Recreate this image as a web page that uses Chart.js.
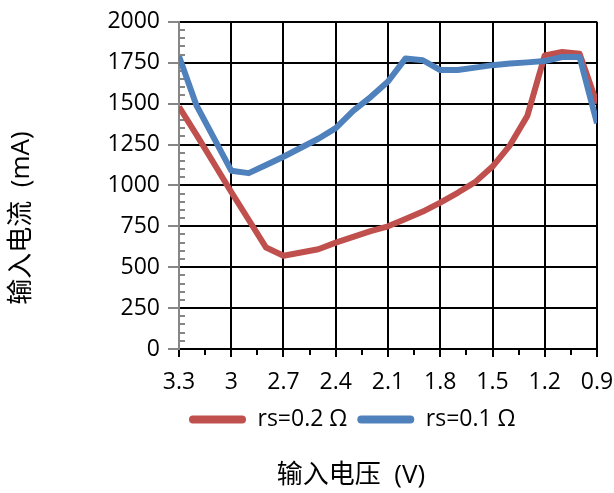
<!DOCTYPE html>
<html>
<head>
<meta charset="utf-8">
<script src="https://cdn.jsdelivr.net/npm/chart.js@4.4.1/dist/chart.umd.min.js"></script>
<style>
    body { margin: 0; background: #fff; }
    #wrap { width: 614px; height: 493px; }
</style>
</head>
<body>
<div id="wrap"><canvas id="ivChart" width="614" height="493"></canvas></div>
<script>
// Input voltage (V), read every 0.1 V from the picture
const voltage = [3.3, 3.2, 3.1, 3.0, 2.9, 2.8, 2.7, 2.6, 2.5, 2.4, 2.3, 2.2, 2.1,
                 2.0, 1.9, 1.8, 1.7, 1.6, 1.5, 1.4, 1.3, 1.2, 1.1, 1.0, 0.9];

// Input current (mA)
const currentRs02 = [1480, 1310, 1135, 960, 790, 620, 570, 590, 610, 650, 685, 720, 750,
                     795, 840, 895, 955, 1020, 1115, 1245, 1425, 1795, 1815, 1805, 1500];
const currentRs01 = [1790, 1490, 1290, 1090, 1075, 1125, 1175, 1230, 1285, 1350, 1455, 1540, 1635,
                     1775, 1765, 1705, 1705, 1720, 1735, 1745, 1752, 1760, 1785, 1785, 1380];

const seriesNames = ['rs=0.2 Ω', 'rs=0.1 Ω'];

// Axis ticks
const xTickValues = [3.3, 3.0, 2.7, 2.4, 2.1, 1.8, 1.5, 1.2, 0.9];
const xTickLabels = ['3.3', '3', '2.7', '2.4', '2.1', '1.8', '1.5', '1.2', '0.9'];
const yTickStep = 250;
const yMinorStep = 50;

const xTitle = '输入电压  (V)';
const yTitle = '输入电流  (mA)';

const RED = '#C0504D';
const BLUE = '#4F81BD';
const AXIS_GRAY = '#868686';
const FONT = "'Open Sans', 'Noto Sans CJK SC', sans-serif";

function toPoints(ys) {
    return voltage.map((v, i) => ({ x: v, y: ys[i] }));
}

// minor tick marks (y inside, x below the axis)
const minorTicks = {
    id: 'minorTicks',
    beforeDatasetsDraw(chart) {
        const { ctx, chartArea, scales } = chart;
        const x = scales.x, y = scales.y;
        ctx.save();
        ctx.lineWidth = 2;

        ctx.strokeStyle = AXIS_GRAY;
        ctx.beginPath();
        for (let v = yMinorStep; v < y.max; v += yMinorStep) {
            if (v % yTickStep === 0) continue;
            const py = Math.round(y.getPixelForValue(v));
            ctx.moveTo(chartArea.left, py);
            ctx.lineTo(chartArea.left + 6, py);
        }
        ctx.stroke();

        ctx.strokeStyle = '#000';
        ctx.beginPath();
        for (let i = 0; i < xTickValues.length - 1; i++) {
            const mid = (xTickValues[i] + xTickValues[i + 1]) / 2;
            const px = Math.round(x.getPixelForValue(mid));
            ctx.moveTo(px, chartArea.bottom);
            ctx.lineTo(px, chartArea.bottom + 6);
        }
        ctx.stroke();
        ctx.restore();
    }
};

// axis titles, placed like the original sheet
const axisTitles = {
    id: 'axisTitles',
    afterDraw(chart) {
        const { ctx } = chart;
        ctx.save();
        ctx.fillStyle = '#000';
        ctx.font = '26px ' + FONT;
        ctx.textAlign = 'center';
        ctx.textBaseline = 'middle';
        ctx.fillText(xTitle, 351, 476);

        ctx.translate(22, 218);
        ctx.rotate(-Math.PI / 2);
        ctx.fillText(yTitle, 0, 0);
        ctx.restore();
    }
};

const ctx = document.getElementById('ivChart').getContext('2d');
const ivChart = new Chart(ctx, {
    type: 'line',
    data: {
        datasets: [
            {
                label: seriesNames[0],
                data: toPoints(currentRs02),
                borderColor: RED,
                backgroundColor: RED,
                borderWidth: 6,
                borderJoinStyle: 'round',
                pointRadius: 0,
                tension: 0,
                order: 1
            },
            {
                label: seriesNames[1],
                data: toPoints(currentRs01),
                borderColor: BLUE,
                backgroundColor: BLUE,
                borderWidth: 6,
                borderJoinStyle: 'round',
                pointRadius: 0,
                tension: 0,
                order: 0
            }
        ]
    },
    options: {
        responsive: false,
        animation: false,
        events: [],
        layout: {
            padding: { left: 0, right: 17, top: 20, bottom: 52 }
        },
        plugins: {
            tooltip: { enabled: false },
            legend: {
                position: 'bottom',
                fullSize: false,
                align: 'start',
                labels: {
                    boxWidth: 57,
                    boxHeight: 8,
                    useBorderRadius: true,
                    borderRadius: 4,
                    padding: 10,
                    color: '#000',
                    font: { size: 23, family: FONT },
                    sort: (a, b) => a.datasetIndex - b.datasetIndex,
                    generateLabels: (chart) =>
                        Chart.defaults.plugins.legend.labels.generateLabels(chart)
                            .map(item => Object.assign(item, { lineWidth: 0 }))
                }
            }
        },
        scales: {
            x: {
                type: 'linear',
                reverse: true,
                min: 0.9,
                max: 3.3,
                afterBuildTicks: (scale) => {
                    scale.ticks = xTickValues.map(v => ({ value: v }));
                },
                afterFit: (scale) => {
                    scale.height = 49;
                    scale.paddingLeft = 0;
                    scale.paddingRight = 0;
                },
                ticks: {
                    autoSkip: false,
                    maxRotation: 0,
                    padding: 12,
                    color: '#000',
                    font: { size: 23, family: FONT },
                    callback: (value) => {
                        const i = xTickValues.findIndex(v => Math.abs(v - value) < 1e-6);
                        return i >= 0 ? xTickLabels[i] : '';
                    }
                },
                grid: {
                    color: (c) => (c.tick && Math.abs(c.tick.value - 3.3) < 1e-6) ? AXIS_GRAY : '#000',
                    lineWidth: 2,
                    tickColor: '#000',
                    tickLength: 8,
                    tickWidth: 2
                },
                border: { display: true, color: '#000', width: 2 }
            },
            y: {
                min: 0,
                max: 2000,
                afterFit: (scale) => { scale.width = 179; },
                ticks: {
                    stepSize: yTickStep,
                    padding: 8,
                    color: '#000',
                    font: { size: 23, family: FONT },
                    callback: (value) => String(value)
                },
                grid: {
                    color: '#000',
                    lineWidth: 2,
                    tickColor: AXIS_GRAY,
                    tickLength: 11,
                    tickWidth: 2
                },
                border: { display: true, color: AXIS_GRAY, width: 2 }
            }
        }
    },
    plugins: [minorTicks, axisTitles]
});
</script>
</body>
</html>
